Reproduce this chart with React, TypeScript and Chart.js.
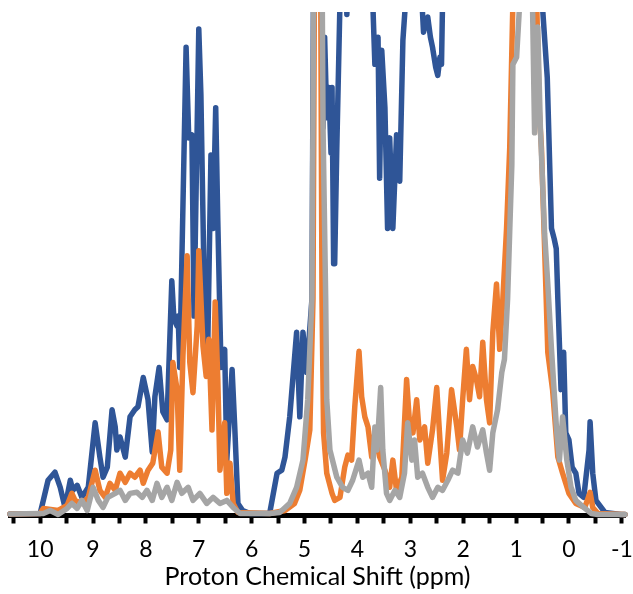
import React, { useEffect, useRef } from 'react';
import { Chart, registerables } from 'chart.js';

Chart.register(...registerables);

// Axis tick positions (ppm); only whole numbers get a label
const tickValues = [10.5, 10, 9.5, 9, 8.5, 8, 7.5, 7, 6.5, 6, 5.5, 5, 4.5, 4, 3.5, 3, 2.5, 2, 1.5, 1, 0.5, 0, -0.5, -1];
const axisTitle = 'Proton Chemical Shift (ppm)';

// Blue spectrum
const bluePpm = [
  10.57, 10.0, 9.94, 9.85, 9.72, 9.62, 9.53, 9.43, 9.38, 9.3,
  9.21, 9.09, 8.96, 8.87, 8.81, 8.73, 8.64, 8.58, 8.55, 8.49,
  8.39, 8.3, 8.21, 8.15, 8.05, 7.96, 7.88, 7.83, 7.75, 7.68,
  7.6, 7.51, 7.47, 7.41, 7.39, 7.36, 7.24, 7.19, 7.13, 7.09,
  7.0, 6.96, 6.88, 6.83, 6.77, 6.73, 6.68, 6.64, 6.58, 6.51,
  6.47, 6.37, 6.32, 6.26, 6.17, 6.03, 5.66, 5.52, 5.43, 5.37,
  5.28, 5.15, 5.09, 5.03, 4.96, 4.86, 4.76, 4.67, 4.65, 4.62,
  4.58, 4.54, 4.5, 4.48, 4.45, 4.43, 4.39, 4.33, 4.25, 4.2,
  4.1, 3.9, 3.71, 3.67, 3.61, 3.58, 3.54, 3.48, 3.43, 3.39,
  3.33, 3.26, 3.2, 3.14, 3.09, 3.0, 2.9, 2.78, 2.75, 2.71,
  2.67, 2.62, 2.58, 2.52, 2.48, 2.44, 2.41, 2.39, 2.3, 2.0,
  1.5, 1.0, 0.7, 0.5, 0.41, 0.33, 0.28, 0.24, 0.21, 0.15,
  0.1, 0.06, 0.0, -0.06, -0.13, -0.19, -0.28, -0.38, -0.4, -0.45,
  -0.51, -0.68, -0.98, -1.06,
];
const blueInt = [
  0.3, 0.4, 3.0, 7.0, 8.6, 5.6, 1.6, 7.0, 5.0, 6.0,
  3.6, 5.6, 18.4, 11.6, 7.6, 9.6, 21.0, 17.6, 13.0, 15.6,
  11.6, 19.6, 21.0, 21.6, 27.4, 23.0, 12.6, 23.6, 29.4, 20.6,
  19.0, 46.6, 39.0, 37.6, 39.6, 29.4, 93.0, 75.0, 75.6, 39.6,
  96.6, 83.6, 34.4, 33.6, 71.6, 57.0, 81.0, 58.4, 29.4, 33.0,
  11.0, 29.0, 17.6, 2.4, 1.0, 0.4, 0.4, 8.4, 9.0, 11.6,
  19.6, 36.4, 19.6, 36.4, 28.4, 43.0, 260, 101, 77, 95,
  79, 85, 72, 85, 50, 50, 73, 102, 130, 99.5,
  140, 150, 102, 89.6, 95, 67, 92.4, 81, 57, 75,
  57, 75.6, 66.4, 94.4, 102, 130, 125, 102, 96, 98,
  99, 95, 93, 89, 87.4, 91, 89.6, 102, 150, 200,
  250, 300, 250, 101, 87, 57, 55, 53, 43, 25,
  32.4, 16.4, 15, 9.6, 8.4, 4.4, 3.6, 13, 18.6, 8.4,
  3, 0.6, 0.2, 0.2,
];

// Orange spectrum
const orangePpm = [
  10.57, 10.0, 9.94, 9.66, 9.49, 9.4, 9.34, 9.21, 9.09, 8.96,
  8.87, 8.77, 8.68, 8.58, 8.49, 8.39, 8.3, 8.21, 8.11, 8.05,
  7.96, 7.87, 7.77, 7.7, 7.6, 7.53, 7.49, 7.41, 7.36, 7.3,
  7.22, 7.17, 7.11, 7.03, 7.0, 6.92, 6.86, 6.81, 6.75, 6.69,
  6.64, 6.6, 6.51, 6.47, 6.41, 6.35, 6.26, 5.66, 5.37, 5.19,
  5.09, 4.99, 4.9, 4.84, 4.75, 4.67, 4.64, 4.58, 4.48, 4.43,
  4.33, 4.24, 4.18, 4.11, 4.05, 3.97, 3.92, 3.86, 3.8, 3.73,
  3.67, 3.58, 3.48, 3.39, 3.33, 3.26, 3.16, 3.07, 3.01, 2.95,
  2.88, 2.82, 2.73, 2.67, 2.58, 2.5, 2.44, 2.39, 2.31, 2.22,
  2.12, 2.07, 2.01, 1.94, 1.88, 1.82, 1.75, 1.69, 1.63, 1.56,
  1.5, 1.44, 1.37, 1.31, 1.25, 1.18, 1.12, 1.06, 0.85, 0.61,
  0.56, 0.52, 0.43, 0.4, 0.31, 0.21, 0.12, 0.0, -0.13, -0.3,
  -0.4, -0.45, -0.55, -1.06,
];
const orangeInt = [
  0.3, 0.4, 1.4, 1.0, 2.0, 4.4, 3.0, 2.4, 3.6, 9.0,
  5.0, 3.6, 6.4, 5.0, 8.4, 6.6, 8.4, 7.6, 9.0, 6.4,
  9.0, 10.4, 16.6, 9.6, 8.4, 13.0, 30.4, 25.0, 9.0, 31.6,
  51.6, 30.4, 24.4, 37.6, 52.6, 33.6, 27.6, 35.0, 17.0, 42.4,
  27.0, 9.0, 18.4, 4.4, 10.4, 2.4, 0.6, 0.4, 1.0, 2.4,
  5.0, 11, 17, 43, 250, 43, 16.4, 8.4, 4.4, 3.0,
  3.6, 9.6, 12, 11, 21.6, 32.6, 23.6, 19.6, 17.6, 11.6,
  16.4, 11.6, 9.0, 5.6, 11, 5.0, 7.6, 27, 17.6, 16.4,
  23, 15, 17.6, 10.4, 17, 25.4, 15, 7.0, 12.4, 25,
  17.6, 13, 23, 33, 23, 29.6, 27, 23.6, 34.4, 23,
  18.4, 36.4, 46, 33, 43, 57, 73, 102, 250, 102,
  80, 73, 43, 32.4, 25, 11.6, 8.4, 4.4, 2.4, 1.6,
  4.6, 1.6, 0.4, 0.2,
];

// Gray spectrum
const grayPpm = [
  10.57, 10.0, 9.94, 9.81, 9.66, 9.49, 9.4, 9.3, 9.21, 9.11,
  9.0, 8.9, 8.81, 8.72, 8.58, 8.49, 8.39, 8.3, 8.17, 8.07,
  7.98, 7.88, 7.79, 7.7, 7.6, 7.51, 7.41, 7.32, 7.2, 7.11,
  6.98, 6.85, 6.73, 6.6, 6.47, 6.35, 6.22, 5.66, 5.47, 5.28,
  5.15, 5.03, 4.94, 4.86, 4.75, 4.65, 4.6, 4.58, 4.52, 4.39,
  4.28, 4.18, 4.09, 3.97, 3.9, 3.8, 3.73, 3.67, 3.63, 3.56,
  3.52, 3.45, 3.39, 3.29, 3.2, 3.11, 3.05, 2.97, 2.92, 2.86,
  2.77, 2.67, 2.58, 2.48, 2.39, 2.29, 2.2, 2.1, 2.01, 1.92,
  1.82, 1.73, 1.63, 1.56, 1.5, 1.44, 1.35, 1.27, 1.22, 1.16,
  1.12, 1.08, 1.06, 0.99, 0.93, 0.81, 0.69, 0.65, 0.59, 0.54,
  0.46, 0.4, 0.33, 0.23, 0.18, 0.12, 0.04, -0.04, -0.13, -0.28,
  -0.42, -0.55, -1.06,
];
const grayInt = [
  0.3, 0.4, 0.4, 1.0, 0.2, 1.4, 2.4, 1.4, 3.0, 1.0,
  5.6, 3.0, 1.6, 3.6, 4.4, 5.0, 3.0, 4.4, 4.6, 3.6,
  5.0, 3.0, 6.4, 3.6, 5.6, 3.0, 6.6, 4.4, 5.6, 3.0,
  4.4, 2.4, 3.6, 2.4, 3.0, 1.6, 0.4, 0.4, 0.6, 2.4,
  5.6, 11, 23, 43, 250, 77, 43, 23, 13, 7.6,
  5.6, 5.0, 7.0, 11, 7.6, 8.4, 5.6, 17.6, 13, 25.4,
  13, 4.4, 3.0, 5.0, 3.6, 8.4, 18.4, 11, 15, 7.6,
  8.4, 5.6, 3.6, 5.6, 5.0, 7.0, 9.0, 8.4, 15, 12.4,
  17.6, 13.6, 17, 12.4, 9.0, 16.4, 21, 28.4, 31, 43,
  56.4, 69.6, 89.6, 91, 102, 250, 102, 76, 97, 77,
  56, 46, 33, 16.4, 11, 19.6, 11, 5.6, 3.0, 1.6,
  0.4, 0.2, 0.2,
];

const toPoints = (xs: number[], ys: number[]) => xs.map((x, i) => ({ x, y: ys[i] }));

export default function App() {
  const canvasRef = useRef<HTMLCanvasElement>(null);

  useEffect(() => {
    if (!canvasRef.current) return;
    const common = {
      borderWidth: 5.5,
      pointRadius: 0,
      tension: 0,
      borderJoinStyle: 'round' as const,
      borderCapStyle: 'round' as const,
      fill: false,
      clip: { left: 5, top: 0, right: 5, bottom: 5 },
    };
    const chart = new Chart(canvasRef.current, {
      type: 'line',
      data: {
        datasets: [
          { label: 'Gray', data: toPoints(grayPpm, grayInt), borderColor: '#A5A5A5', ...common },
          { label: 'Orange', data: toPoints(orangePpm, orangeInt), borderColor: '#ED7D31', ...common },
          { label: 'Blue', data: toPoints(bluePpm, blueInt), borderColor: '#2F5597', ...common },
        ],
      },
      options: {
        animation: false,
        responsive: true,
        maintainAspectRatio: false,
        layout: { padding: { top: 12, left: 10, right: 8, bottom: 0 } },
        plugins: { legend: { display: false }, tooltip: { enabled: false } },
        scales: {
          x: {
            type: 'linear',
            reverse: true,
            min: -1.06,
            max: 10.57,
            afterBuildTicks: (scale: any) => {
              scale.ticks = tickValues.map((v) => ({ value: v }));
            },
            ticks: {
              autoSkip: false,
              maxRotation: 0,
              minRotation: 0,
              padding: 0,
              color: '#000',
              font: { family: 'Lato', size: 23, lineHeight: '52px' },
              callback: (v: any) => (Number.isInteger(Number(v)) ? String(v) : ''),
            },
            grid: {
              display: true,
              drawOnChartArea: false,
              drawTicks: true,
              tickLength: 8,
              tickWidth: 4,
              tickColor: '#000',
              color: '#000',
            },
            border: { display: true, color: '#000', width: 5 },
            title: {
              display: true,
              text: axisTitle,
              color: '#000',
              font: { family: 'Lato', size: 25, lineHeight: 1 },
              padding: { top: -11, bottom: 4.5 },
            },
          },
          y: { display: false, min: 0, max: 100 },
        },
      },
    } as any);
    return () => chart.destroy();
  }, []);

  return (
    <div style={{ position: 'fixed', left: 0, top: 0, width: 633, height: 594, background: '#fff' }}>
      <canvas ref={canvasRef} />
    </div>
  );
}
